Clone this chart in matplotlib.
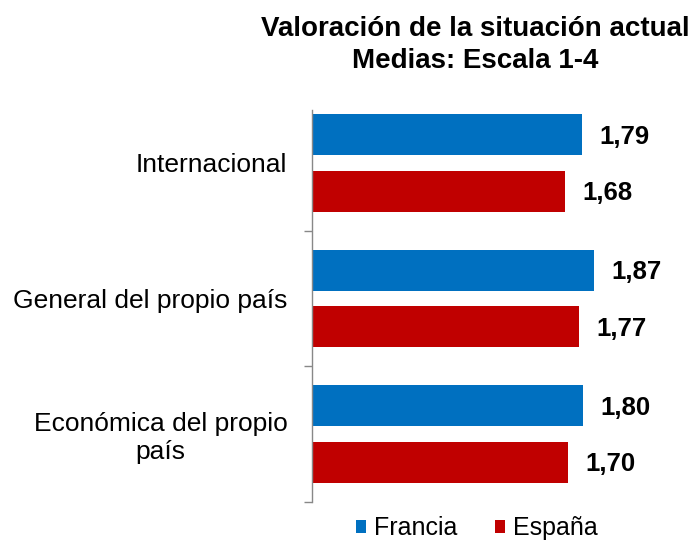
import matplotlib.pyplot as plt
import numpy as np

plt.rcParams['font.family'] = ['Liberation Sans', 'DejaVu Sans']

categories = ['Internacional', 'General del propio país', 'Económica del propio\npaís']
series_names = ['Francia', 'España']
francia = [1.79, 1.87, 1.80]
espana = [1.68, 1.77, 1.70]
colors = ['#0070C0', '#C00000']


def create_chart():
    fig = plt.figure(figsize=(6.93, 5.44), dpi=100)
    ax = fig.add_axes([0.4509, 0.0778, 0.5426, 0.72])

    y = np.arange(len(categories))
    h = 0.303
    off = 0.209

    bars_f = ax.barh(y - off, francia, h, color=colors[0], label=series_names[0])
    bars_e = ax.barh(y + off, espana, h, color=colors[1], label=series_names[1])

    for bars, vals in [(bars_f, francia), (bars_e, espana)]:
        for b, v in zip(bars, vals):
            ax.annotate(f'{v:.2f}'.replace('.', ','),
                        xy=(v, b.get_y() + b.get_height() / 2),
                        xytext=(12.6, -1.5), textcoords='offset points',
                        ha='left', va='center', fontsize=18.5, fontweight='bold')

    ax.set_xlim(0, 2.5)
    ax.set_ylim(2.5, -0.39)

    ax.set_yticks(y)
    ax.set_yticklabels(categories, fontsize=19, multialignment='center')
    ax.tick_params(axis='y', which='major', length=0, pad=18)
    ax.set_yticks([0.5, 1.5, 2.5], minor=True)
    ax.tick_params(axis='y', which='minor', length=6, color='#888888', width=1)
    ax.set_xticks([])

    for s in ['top', 'right', 'bottom']:
        ax.spines[s].set_visible(False)
    ax.spines['left'].set_color('#888888')
    ax.spines['left'].set_linewidth(1)

    fig.text(0.686, 0.9338, 'Valoración de la situación actual', ha='center',
             va='baseline', fontsize=20, fontweight='bold')
    fig.text(0.686, 0.8745, 'Medias: Escala 1-4', ha='center',
             va='baseline', fontsize=20, fontweight='bold')

    fig.legend(loc='lower center', bbox_to_anchor=(0.688, -0.018), ncol=2, frameon=False,
               fontsize=18, handlelength=0.42, handleheight=0.42,
               handletextpad=0.3, columnspacing=1.5, borderpad=0.05)

    plt.savefig('out.png', dpi=100)


if __name__ == "__main__":
    create_chart()
